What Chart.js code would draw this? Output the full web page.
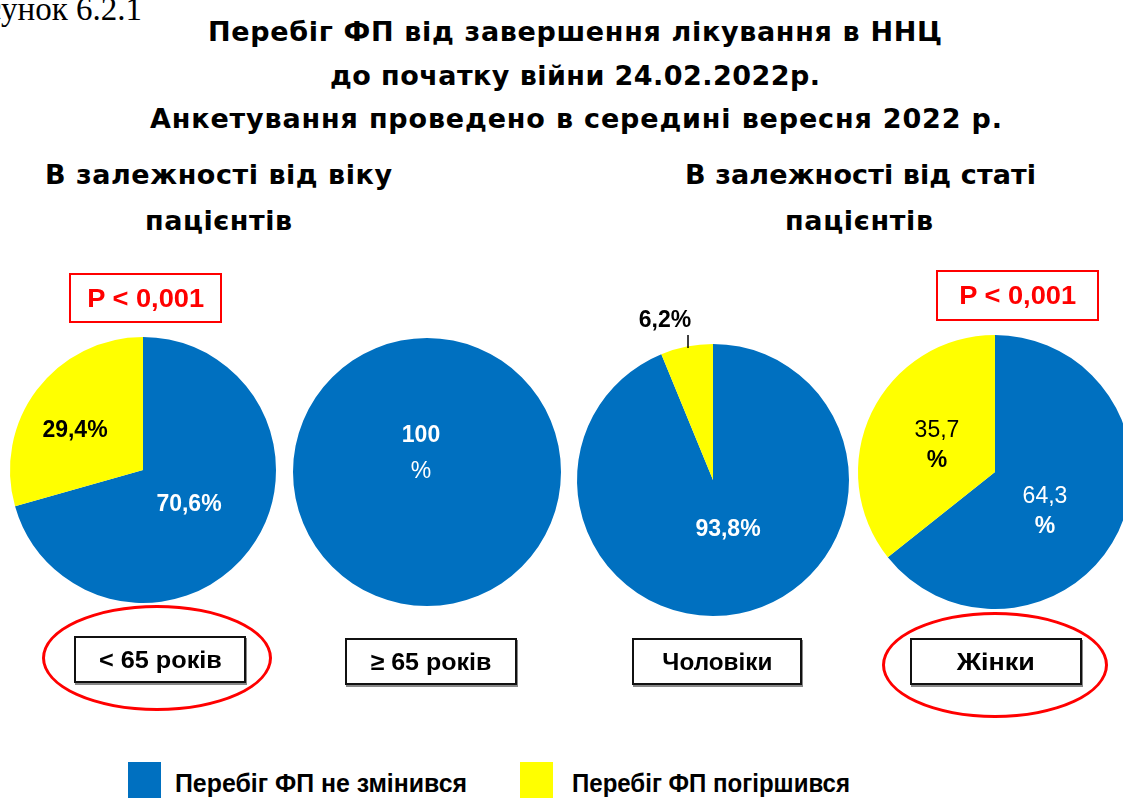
<!DOCTYPE html>
<html lang="uk">
<head>
<meta charset="utf-8">
<title>Перебіг ФП</title>
<script src="https://cdn.jsdelivr.net/npm/chart.js@4.4.1/dist/chart.umd.min.js"></script>
<style>
  html, body { margin: 0; padding: 0; }
  body { width: 1123px; height: 798px; position: relative; overflow: hidden; background: #fff; }
  .txt { position: absolute; white-space: nowrap; line-height: 1; color: #000; }
  .title { font: bold 27px "DejaVu Sans", sans-serif; }
  .fig { font: 33px "Liberation Serif", serif; right: 981px; top: -9px; }
  .pie { position: absolute; }
  .pbox { position: absolute; box-sizing: border-box; border: 2px solid #f00; display: flex; align-items: center; justify-content: center; }
  .pbox span { font: bold 25px "Liberation Sans", sans-serif; color: #f00; white-space: nowrap; line-height: 1; display: inline-block; }
  .cat { position: absolute; box-sizing: border-box; border: 2px solid #111; box-shadow: 1px 2px 0 #888; display: flex; align-items: center; justify-content: center; background: #fff; }
  .cat span { font: bold 24px "Liberation Sans Narrow", "Liberation Sans", sans-serif; white-space: nowrap; line-height: 1; display: inline-block; }
  .ring { position: absolute; box-sizing: border-box; border: 3px solid #f00; border-radius: 50%; }
  .swatch { position: absolute; width: 33px; height: 40px; }
  .leg { font: bold 25px "Liberation Sans Narrow", "Liberation Sans", sans-serif; }
</style>
</head>
<body>
<div class="txt fig">Рисунок 6.2.1</div>
<div class="txt title fit" style="left:208px;top:16px" data-w="734">Перебіг ФП від завершення лікування в ННЦ</div>
<div class="txt title fit" style="left:330px;top:60px" data-w="490">до початку війни 24.02.2022р.</div>
<div class="txt title fit" style="left:150px;top:103px" data-w="852">Анкетування проведено в середині вересня 2022 р.</div>
<div class="txt title fit" style="left:45px;top:159px" data-w="347">В залежності від віку</div>
<div class="txt title fit" style="left:145px;top:205px" data-w="147">пацієнтів</div>
<div class="txt title fit" style="left:685px;top:159px" data-w="351">В залежності від статі</div>
<div class="txt title fit" style="left:785px;top:205px" data-w="148">пацієнтів</div>

<script>
// Chart data
const GROUPS = ['< 65 років', '≥ 65 років', 'Чоловіки', 'Жінки'];
const SERIES = ['Перебіг ФП не змінився', 'Перебіг ФП погіршився'];
const UNCHANGED = [70.6, 100, 93.8, 64.3];
const WORSENED = [29.4, 0, 6.2, 35.7];
const P_VALUES = ['P < 0,001', '', '', 'P < 0,001'];
const COLORS = ['#0070C0', '#FFFF00'];

// Layout of the page (pixels)
const PIES = [
  { cx: 143, cy: 470, r: 133 },
  { cx: 427, cy: 472, r: 134 },
  { cx: 713, cy: 480, r: 136 },
  { cx: 995, cy: 472, r: 137 }
];
const CANVAS_SIZE = 360;
const CAT_BOXES = [[74, 636, 172, 47], [345, 638, 172, 47], [632, 638, 170, 47], [910, 638, 172, 47]];
const CAT_TEXT_W = [123, 121, 110, 78];
const P_BOXES = [[69, 273, 153, 50], null, null, [936, 270, 163, 51]];
const P_TEXT_W = 117;
const RINGS = [[42, 605, 230, 106], null, null, [882, 612, 226, 106]];
const LEGEND_POS = [{ x: 128, tx: 175, w: 292 }, { x: 520, tx: 572, w: 278 }];

// Label placement per pie: [unchanged slice, worsened slice], offsets from the pie centre
const LABEL_LAYOUT = [
  [{ at: [46, 41], color: '#fff' }, { at: [-68, -33], color: '#000' }],
  [{ at: [-6, -30], color: '#fff', split: true, gap: 36, weights: ['bold', 'normal'] }, null],
  [{ at: [15, 56], color: '#fff' }, { at: [-48, -153], color: '#000', leader: [-25, -145, -25, -132] }],
  [{ at: [50, 31], color: '#fff', split: true, gap: 30, weights: ['normal', 'bold'] },
   { at: [-58, -35], color: '#000', split: true, gap: 30, weights: ['normal', 'bold'] }]
];

// Format value like 70,6
function fmt(v) {
  return v === 100 ? '100' : v.toFixed(1).replace('.', ',');
}

// Draw slice labels
const sliceLabels = {
  id: 'sliceLabels',
  afterDatasetsDraw(chart, args, opts) {
    const ctx = chart.ctx;
    const meta = chart.getDatasetMeta(0);
    meta.data.forEach((arc, i) => {
      const v = chart.data.datasets[0].data[i];
      const spec = opts.layout[i];
      if (!v || !spec) return;
      const lines = spec.split ? [fmt(v), '%'] : [fmt(v) + '%'];
      const weights = spec.weights || ['bold', 'bold'];
      ctx.save();
      ctx.fillStyle = spec.color;
      ctx.textAlign = 'center';
      ctx.textBaseline = 'alphabetic';
      lines.forEach((line, k) => {
        ctx.font = weights[k] + ' 23px "Liberation Sans", sans-serif';
        ctx.fillText(line, arc.x + spec.at[0], arc.y + spec.at[1] + k * (spec.gap || 0));
      });
      if (spec.leader) {
        const l = spec.leader;
        ctx.strokeStyle = '#000';
        ctx.lineWidth = 1.5;
        ctx.beginPath();
        ctx.moveTo(arc.x + l[0], arc.y + l[1]);
        ctx.lineTo(arc.x + l[2], arc.y + l[3]);
        ctx.stroke();
      }
      ctx.restore();
    });
  }
};

function addBox(cls, rect) {
  const el = document.createElement('div');
  el.className = cls;
  el.style.left = rect[0] + 'px';
  el.style.top = rect[1] + 'px';
  el.style.width = rect[2] + 'px';
  el.style.height = rect[3] + 'px';
  document.body.appendChild(el);
  return el;
}

// Pies
GROUPS.forEach((group, i) => {
  const p = PIES[i];
  const canvas = document.createElement('canvas');
  canvas.className = 'pie';
  canvas.width = CANVAS_SIZE;
  canvas.height = CANVAS_SIZE;
  canvas.style.left = (p.cx - CANVAS_SIZE / 2) + 'px';
  canvas.style.top = (p.cy - CANVAS_SIZE / 2) + 'px';
  document.body.appendChild(canvas);

  new Chart(canvas, {
    type: 'pie',
    data: {
      labels: SERIES,
      datasets: [{
        data: [UNCHANGED[i], WORSENED[i]],
        backgroundColor: COLORS,
        borderWidth: 0,
        radius: p.r
      }]
    },
    options: {
      responsive: false,
      animation: false,
      layout: { padding: 0 },
      plugins: {
        legend: { display: false },
        tooltip: { enabled: false },
        sliceLabels: { layout: LABEL_LAYOUT[i] }
      }
    },
    plugins: [sliceLabels]
  });

  // P value box
  if (P_VALUES[i]) {
    const box = addBox('pbox', P_BOXES[i]);
    const span = document.createElement('span');
    span.textContent = P_VALUES[i];
    span.dataset.w = P_TEXT_W;
    span.dataset.mode = 'sx';
    span.className = 'fit';
    box.appendChild(span);
  }

  // Group label box
  const cat = addBox('cat', CAT_BOXES[i]);
  const cs = document.createElement('span');
  cs.textContent = group;
  cs.dataset.w = CAT_TEXT_W[i];
  cs.dataset.mode = 'sx';
  cs.className = 'fit';
  cat.appendChild(cs);

  if (RINGS[i]) addBox('ring', RINGS[i]);
});

// Legend
SERIES.forEach((name, i) => {
  const pos = LEGEND_POS[i];
  const sw = addBox('swatch', [pos.x, 762, 33, 40]);
  sw.style.background = COLORS[i];
  const t = document.createElement('div');
  t.className = 'txt leg fit';
  t.textContent = name;
  t.style.left = pos.tx + 'px';
  t.style.top = '769px';
  t.dataset.w = pos.w;
  t.dataset.mode = 'sx';
  t.dataset.origin = 'left';
  document.body.appendChild(t);
});

// Fit text to the width it has in the picture
function fitText(el) {
  const target = +el.dataset.w;
  const w = el.getBoundingClientRect().width;
  if (el.dataset.mode === 'sx') {
    el.style.transformOrigin = el.dataset.origin === 'left' ? '0 50%' : '50% 50%';
    el.style.transform = 'scaleX(' + (target / w) + ')';
  } else {
    const n = el.textContent.length;
    el.style.letterSpacing = ((target - w) / (n - 1)) + 'px';
  }
}
document.querySelectorAll('.fit').forEach(fitText);
</script>
</body>
</html>
